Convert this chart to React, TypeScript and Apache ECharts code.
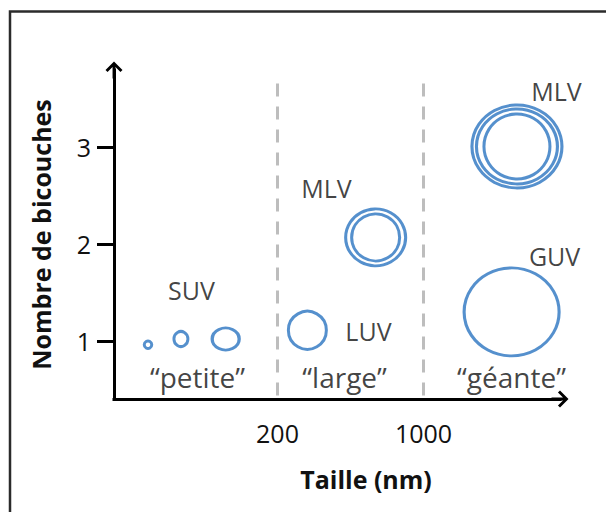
import React, { useEffect, useRef } from 'react';
import * as echarts from 'echarts';

// ---- data ----
// vesicle centres: size in nm (log axis) and number of bilayers
const vesicleTypes = ['SUV', 'SUV', 'SUV', 'LUV', 'MLV', 'MLV', 'GUV'];
const sizesNm = [48, 69, 113, 278, 590, 2800, 2640];
const bilayerCounts = [0.96, 1.02, 1.02, 1.11, 2.07, 3.01, 1.3];

// vesicle-name annotations and their anchor values
const nameTexts = ['SUV', 'LUV', 'MLV', 'MLV', 'GUV'];
const nameSizesNm = [77.5, 545, 343, 4330, 4237];
const nameBilayers = [1.53, 1.1, 2.58, 3.58, 1.88];

// size-class annotations and their anchor values
const classTexts = ['\u201Cpetite\u201D', '\u201Clarge\u201D', '\u201Cg\u00E9ante\u201D'];
const classSizesNm = [82.8, 419, 2638];
const classBilayers = [0.63, 0.63, 0.63];

// size class boundaries (x tick labels)
const sizeBoundaries = [200, 1000];
const yTicks = [1, 2, 3];

// axis extents
const xMin = 33;
const xMax = 4500;
const yMin = 0.4;
const yMax = 3.8;
const boundaryTop = 3.66;

// ---- styles ----
// drawn ring sizes in px [w, h] per vesicle (one entry per bilayer ring)
const ringSizes: number[][][] = [
  [[7.5, 7.5]],
  [[14, 15]],
  [[27, 22]],
  [[38, 38]],
  [[60, 57], [48, 47]],
  [[90, 83], [81, 75], [66, 65]],
  [[95, 88]],
];
const BLUE = '#2a74c0';
const INK = '#111111';
const FONT = 'Open Sans';
const ARROW = 'path://M10,0 L20,10 L17.6,12.4 L11.7,6.5 L11.7,20 L8.3,20 L8.3,6.5 L2.4,12.4 L0,10 Z';

const ringData: any[] = [];
sizesNm.forEach((s, i) => {
  ringSizes[i].forEach((sz) => {
    ringData.push({ name: vesicleTypes[i], value: [s, bilayerCounts[i]], symbolSize: sz });
  });
});

const nameData = nameTexts.map((t, i) => ({ name: t, value: [nameSizesNm[i], nameBilayers[i]] }));
const classData = classTexts.map((t, i) => ({ name: t, value: [classSizesNm[i], classBilayers[i]] }));

const boundaryLines = sizeBoundaries.map((v) => [
  { coord: [v, boundaryTop], label: { formatter: String(v) } },
  { coord: [v, yMin] },
]);

const textSeries = (data: any[], fontSize: number) => ({
  type: 'scatter',
  symbol: 'circle',
  symbolSize: 1,
  clip: false,
  data,
  itemStyle: { color: 'rgba(0,0,0,0)' },
  emphasis: { disabled: true },
  label: {
    show: true,
    position: 'inside',
    formatter: '{b}',
    fontFamily: FONT,
    fontSize,
    color: INK,
  },
});

const option: any = {
  animation: false,
  backgroundColor: '#ffffff',
  graphic: [
    {
      type: 'rect',
      silent: true,
      z: -10,
      shape: { x: 10, y: 11.5, width: 700, height: 600 },
      style: { fill: 'none', stroke: '#2b2b2b', lineWidth: 2.5 },
    },
  ],
  grid: { left: 114, right: 46, top: 70, bottom: 113, containLabel: false },
  xAxis: {
    type: 'log',
    min: xMin,
    max: xMax,
    name: 'Taille (nm)',
    nameLocation: 'middle',
    nameGap: 67,
    nameTextStyle: {
      fontFamily: FONT,
      fontWeight: 'bold',
      fontSize: 25,
      color: INK,
      padding: [0, 0, 0, 58],
    },
    axisLine: {
      onZero: false,
      symbol: ['none', ARROW],
      symbolSize: [17, 17],
      lineStyle: { color: '#000', width: 3, cap: 'square' },
    },
    axisTick: { show: false },
    axisLabel: { show: false },
    splitLine: { show: false },
    minorTick: { show: false },
  },
  yAxis: {
    type: 'value',
    min: yMin,
    max: yMax,
    name: 'Nombre de bicouches',
    nameLocation: 'middle',
    nameRotate: 90,
    nameGap: 61,
    nameTextStyle: { fontFamily: FONT, fontWeight: 'bold', fontSize: 25, color: INK },
    axisLine: {
      onZero: false,
      symbol: ['none', ARROW],
      symbolSize: [17, 17],
      lineStyle: { color: '#000', width: 3, cap: 'square' },
    },
    axisTick: {
      show: true,
      inside: false,
      length: 17,
      customValues: yTicks,
      lineStyle: { color: '#000', width: 3 },
    },
    axisLabel: {
      show: true,
      customValues: yTicks,
      margin: 23,
      fontFamily: FONT,
      fontSize: 25,
      color: INK,
    },
    splitLine: { show: false },
  },
  series: [
    {
      type: 'scatter',
      symbol: 'circle',
      data: ringData,
      clip: false,
      itemStyle: { color: 'rgba(0,0,0,0)', borderColor: BLUE, borderWidth: 3 },
      emphasis: { disabled: true },
      markLine: {
        silent: true,
        symbol: ['none', 'none'],
        lineStyle: { color: '#bdbdbd', width: 3, type: [13, 10] },
        label: {
          show: true,
          position: 'end',
          distance: 21,
          fontFamily: FONT,
          fontSize: 25,
          color: INK,
        },
        emphasis: { disabled: true },
        data: boundaryLines,
      },
    },
    textSeries(nameData, 25),
    textSeries(classData, 28),
  ],
};

export default function App() {
  const ref = useRef<HTMLDivElement>(null);
  useEffect(() => {
    if (!ref.current) return;
    const chart = echarts.init(ref.current, null, { renderer: 'svg' });
    chart.setOption(option);
    return () => chart.dispose();
  }, []);
  return (
    <div
      ref={ref}
      style={{ position: 'absolute', left: 0, top: 0, width: 606, height: 512, background: '#fff' }}
    />
  );
}
